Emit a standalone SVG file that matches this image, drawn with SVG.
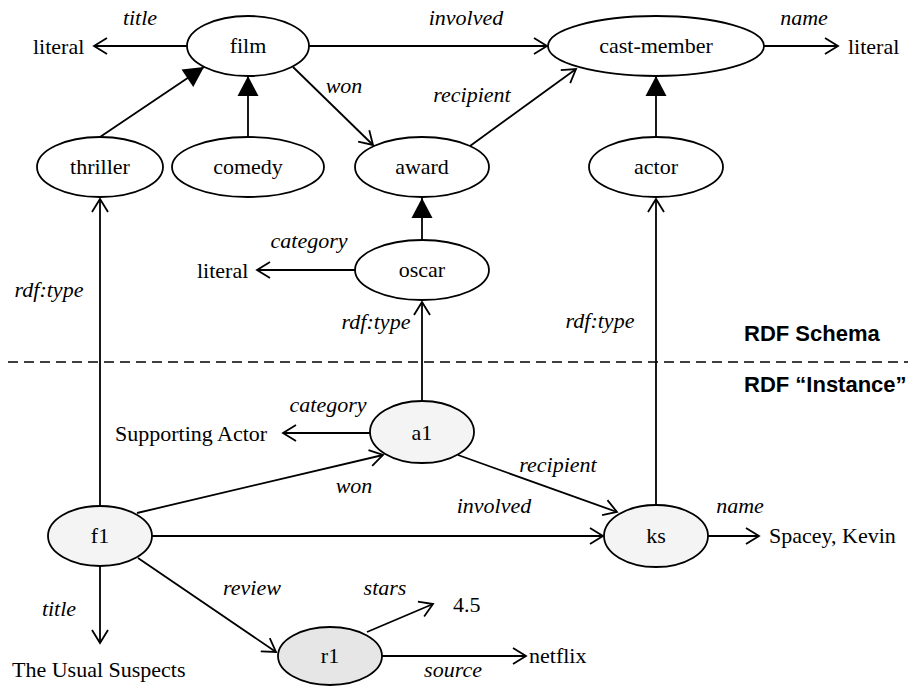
<svg xmlns="http://www.w3.org/2000/svg" width="908" height="686" viewBox="0 0 908 686">
<style>
.t{font-family:"Liberation Serif","Times New Roman",serif;font-size:22px;fill:#000}
.m{text-anchor:middle}
.i{font-style:italic}
.b{font-family:"Liberation Sans",Arial,sans-serif;font-size:22px;font-weight:bold;fill:#000}
.e{fill:#fff;stroke:#000;stroke-width:1.8}
.g{fill:#f4f4f4}
.g2{fill:#e6e6e6}
.c line{stroke:#000;stroke-width:1.8;fill:none}
.o{marker-end:url(#open)}
.s{marker-end:url(#tri)}
</style>
<defs>
<marker id="open" markerUnits="userSpaceOnUse" markerWidth="20" markerHeight="20" refX="14" refY="10" orient="auto" overflow="visible">
<path d="M1,2 L14,10 L1,18" fill="none" stroke="#000" stroke-width="1.8"/>
</marker>
<marker id="tri" markerUnits="userSpaceOnUse" markerWidth="22" markerHeight="22" refX="20" refY="10.5" orient="auto" overflow="visible">
<path d="M0,0 L20,10.5 L0,21 Z" fill="#000"/>
</marker>
</defs>
<rect width="908" height="686" fill="#fff"/>
<line x1="8" y1="362" x2="908" y2="362" stroke="#000" stroke-width="1.5" stroke-dasharray="10,6"/>
<g id="connectors" class="c">
<line class="o" x1="187" y1="46" x2="94" y2="46"/>
<line class="o" x1="309" y1="46" x2="547" y2="46"/>
<line class="o" x1="764" y1="46" x2="838" y2="46"/>
<line class="o" x1="293" y1="67" x2="373" y2="145"/>
<line class="o" x1="470" y1="146" x2="576" y2="69"/>
<line class="s" x1="100" y1="137" x2="204" y2="67"/>
<line class="s" x1="248" y1="137" x2="248" y2="76"/>
<line class="s" x1="656" y1="137" x2="656" y2="76"/>
<line class="s" x1="422" y1="240" x2="422" y2="198"/>
<line class="o" x1="355" y1="270" x2="257" y2="270"/>
<line class="o" x1="100" y1="506" x2="100" y2="199"/>
<line class="o" x1="422" y1="401" x2="422" y2="302"/>
<line class="o" x1="656" y1="505" x2="656" y2="199"/>
<line class="o" x1="370" y1="433" x2="283" y2="433"/>
<line class="o" x1="137" y1="513" x2="383" y2="455"/>
<line class="o" x1="458" y1="455" x2="617" y2="512"/>
<line class="o" x1="152" y1="536" x2="603" y2="536"/>
<line class="o" x1="708" y1="536" x2="759" y2="536"/>
<line class="o" x1="100" y1="566" x2="100" y2="643"/>
<line class="o" x1="138" y1="558" x2="276" y2="652"/>
<line class="o" x1="367" y1="632" x2="433" y2="604"/>
<line class="o" x1="382" y1="656" x2="526" y2="656"/>
</g>
<g id="film"><ellipse class="e" cx="248" cy="46" rx="61" ry="30"/><text class="t m" x="248" y="53">film</text></g>
<g id="cast-member"><ellipse class="e" cx="656" cy="46" rx="108" ry="30"/><text class="t m" x="656" y="53">cast-member</text></g>
<g id="thriller"><ellipse class="e" cx="100" cy="167" rx="63" ry="30"/><text class="t m" x="100" y="174">thriller</text></g>
<g id="comedy"><ellipse class="e" cx="248" cy="167" rx="76" ry="30"/><text class="t m" x="248" y="174">comedy</text></g>
<g id="award"><ellipse class="e" cx="422" cy="167" rx="67" ry="30"/><text class="t m" x="422" y="174">award</text></g>
<g id="actor"><ellipse class="e" cx="656" cy="167" rx="67" ry="30"/><text class="t m" x="656" y="174">actor</text></g>
<g id="oscar"><ellipse class="e" cx="422" cy="270" rx="67" ry="30"/><text class="t m" x="422" y="277">oscar</text></g>
<g id="a1"><ellipse class="e g" cx="422" cy="432" rx="52" ry="31"/><text class="t m" x="422" y="440">a1</text></g>
<g id="f1"><ellipse class="e g" cx="100" cy="536" rx="52" ry="30"/><text class="t m" x="100" y="543">f1</text></g>
<g id="ks"><ellipse class="e g" cx="656" cy="536" rx="52" ry="31"/><text class="t m" x="656" y="543">ks</text></g>
<g id="r1"><ellipse class="e g2" cx="330" cy="656" rx="52" ry="29"/><text class="t m" x="330" y="663">r1</text></g>
<g id="literal-1"><text class="t" x="33" y="54">literal</text></g>
<g id="literal-2"><text class="t" x="848" y="54">literal</text></g>
<g id="literal-3"><text class="t" x="197" y="278">literal</text></g>
<g id="supporting-actor"><text class="t" x="115" y="441">Supporting Actor</text></g>
<g id="spacey"><text class="t" x="769" y="543">Spacey, Kevin</text></g>
<g id="usual-suspects"><text class="t" x="12" y="677">The Usual Suspects</text></g>
<g id="stars-value"><text class="t" x="453" y="612">4.5</text></g>
<g id="netflix"><text class="t" x="529" y="663">netflix</text></g>
<g id="labels">
<text class="t m i" x="140" y="25">title</text>
<text class="t m i" x="466" y="25">involved</text>
<text class="t m i" x="804" y="25">name</text>
<text class="t m i" x="344" y="93">won</text>
<text class="t m i" x="472" y="102">recipient</text>
<text class="t m i" x="309" y="248">category</text>
<text class="t m i" x="49" y="297">rdf:type</text>
<text class="t m i" x="376" y="329">rdf:type</text>
<text class="t m i" x="600" y="328">rdf:type</text>
<text class="t m i" x="328" y="412">category</text>
<text class="t m i" x="354" y="493">won</text>
<text class="t m i" x="558" y="472">recipient</text>
<text class="t m i" x="494" y="513">involved</text>
<text class="t m i" x="740" y="513">name</text>
<text class="t m i" x="252" y="595">review</text>
<text class="t m i" x="385" y="595">stars</text>
<text class="t m i" x="59" y="616">title</text>
<text class="t m i" x="453" y="677">source</text>
</g>
<text class="b" x="744" y="341">RDF Schema</text>
<text class="b" x="744" y="392">RDF “Instance”</text>
</svg>
